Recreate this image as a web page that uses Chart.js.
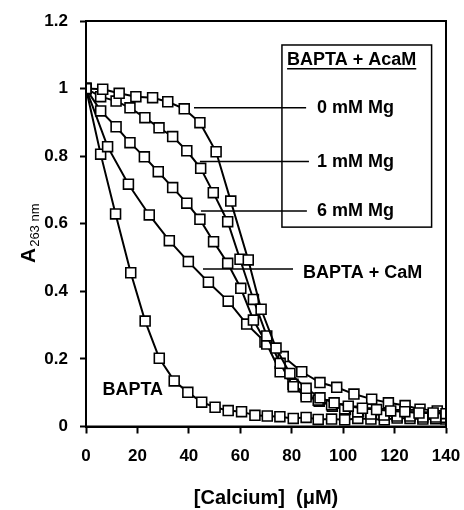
<!DOCTYPE html>
<html>
<head>
<meta charset="utf-8">
<script src="https://cdn.jsdelivr.net/npm/chart.js@4"></script>
<style>
  html, body { margin: 0; padding: 0; background: #fff; }
  #wrap { width: 464px; height: 510px; }
</style>
</head>
<body>
<div id="wrap"><canvas id="myChart" width="464" height="510"></canvas></div>
<script>
// values
let xTicks = [0, 20, 40, 60, 80, 100, 120, 140];
let yTicks = [0, 0.2, 0.4, 0.6, 0.8, 1, 1.2];

let mg0X = [0, 6.5, 12.9, 19.4, 25.9, 31.8, 38.2, 44.3, 50.6, 56.3, 63.1, 68.1, 73.9, 79.3, 85.6, 91, 96.5, 102, 107.5, 113, 118.5, 124, 129.5, 135, 140];
let mg0Y = [1, 0.998, 0.986, 0.976, 0.973, 0.961, 0.94, 0.899, 0.813, 0.667, 0.493, 0.347, 0.232, 0.157, 0.113, 0.085, 0.07, 0.06, 0.054, 0.05, 0.046, 0.044, 0.04, 0.04, 0.038];

let mg1X = [0, 5.7, 11.7, 17.1, 22.9, 28.4, 33.7, 39.2, 44.6, 49.5, 55.1, 59.9, 65.1, 70.3, 75.5, 80.6, 85.6, 90.3, 95.5, 100.6, 105.7, 110.8, 115.9, 121, 126, 131, 136, 140];
let mg1Y = [1, 0.976, 0.963, 0.943, 0.914, 0.884, 0.858, 0.816, 0.764, 0.692, 0.606, 0.495, 0.376, 0.268, 0.187, 0.118, 0.088, 0.078, 0.064, 0.052, 0.043, 0.037, 0.034, 0.031, 0.031, 0.028, 0.028, 0.027];

let mg6X = [0, 5.7, 11.7, 17.1, 22.7, 28.1, 33.7, 39.2, 44.3, 49.6, 55.1, 60.2, 65.1, 70.3, 75.5, 80.5, 85.6, 90.7, 95.8, 100.9, 106, 111, 116, 121, 126, 131, 136, 140];
let mg6Y = [1, 0.934, 0.887, 0.84, 0.798, 0.754, 0.707, 0.661, 0.613, 0.547, 0.483, 0.409, 0.315, 0.244, 0.162, 0.125, 0.095, 0.075, 0.06, 0.05, 0.045, 0.04, 0.038, 0.035, 0.035, 0.035, 0.032, 0.03];

let camX = [0, 8.4, 16.5, 24.6, 32.4, 39.8, 47.6, 55.3, 62.5, 69.6, 76.7, 83.9, 91, 97.5, 104.2, 111.1, 117.6, 124.1, 129.9, 136.6];
let camY = [1, 0.828, 0.717, 0.626, 0.55, 0.488, 0.427, 0.371, 0.303, 0.25, 0.207, 0.162, 0.13, 0.116, 0.096, 0.081, 0.07, 0.062, 0.051, 0.046];

let baptaX = [0, 5.7, 11.5, 17.4, 23, 28.5, 34.3, 39.6, 45, 50.2, 55.3, 60.5, 65.7, 70.5, 75.4, 80.6, 85.6, 90.3, 95.5, 100.6, 105.7, 110.8, 116, 121, 126, 131, 136, 140];
let baptaY = [1, 0.806, 0.629, 0.455, 0.312, 0.202, 0.135, 0.101, 0.072, 0.057, 0.047, 0.044, 0.033, 0.031, 0.029, 0.024, 0.027, 0.021, 0.022, 0.02, 0.024, 0.022, 0.02, 0.025, 0.024, 0.022, 0.023, 0.022];

let seriesNames = ["0 mM Mg", "1 mM Mg", "6 mM Mg", "BAPTA + CaM", "BAPTA"];
let seriesX = [mg0X, mg1X, mg6X, camX, baptaX];
let seriesY = [mg0Y, mg1Y, mg6Y, camY, baptaY];

const FONT = "Arial, 'Liberation Sans', sans-serif";

function pts(xs, ys) {
  return xs.map((x, i) => ({ x: x, y: ys[i] }));
}

let datasets = seriesNames.map((name, i) => ({
  label: name,
  data: pts(seriesX[i], seriesY[i]),
  showLine: true,
  borderColor: "#000",
  borderWidth: 2,
  pointStyle: "rect",
  pointRadius: 7,
  pointBorderWidth: 1.6,
  pointBackgroundColor: "#fff",
  pointBorderColor: "#000",
  tension: 0,
}));

// frame, leader lines, legend box and labels
let annotate = {
  id: "annotate",
  afterDatasetsDraw(chart) {
    let c = chart.ctx;
    let a = chart.chartArea;
    let sx = chart.scales.x, sy = chart.scales.y;
    let X = (v) => sx.getPixelForValue(v);
    let Y = (v) => sy.getPixelForValue(v);
    c.save();
    c.strokeStyle = "#000";
    c.lineWidth = 2;
    c.strokeRect(a.left, a.top, a.right - a.left, a.bottom - a.top);

    // legend box
    c.lineWidth = 1.5;
    c.strokeRect(X(76.2), Y(1.129), X(134.4) - X(76.2), Y(0.59) - Y(1.129));

    // leader lines
    let leaders = [[42, 85.6, 0.943], [44.3, 86.7, 0.784], [44.7, 85.9, 0.638], [45.5, 80.5, 0.466]];
    leaders.forEach((l) => {
      c.beginPath();
      c.moveTo(X(l[0]), Y(l[2]));
      c.lineTo(X(l[1]), Y(l[2]));
      c.stroke();
    });

    c.fillStyle = "#000";
    c.font = "bold 18px " + FONT;
    c.textBaseline = "middle";
    c.textAlign = "left";
    c.fillText("BAPTA + AcaM", X(78.2), Y(1.085));
    let w = c.measureText("BAPTA + AcaM").width;
    c.beginPath();
    c.moveTo(X(78.2), Y(1.059));
    c.lineTo(X(78.2) + w, Y(1.059));
    c.stroke();
    c.fillText("0 mM Mg", X(89.8), Y(0.943));
    c.fillText("1 mM Mg", X(89.8), Y(0.784));
    c.fillText("6 mM Mg", X(89.8), Y(0.638));
    c.fillText("BAPTA + CaM", X(84.4), Y(0.453));
    c.fillText("BAPTA", X(6.4), Y(0.108));

    // y axis title with subscript
    c.translate(28, (a.top + a.bottom) / 2 + 10);
    c.rotate(-Math.PI / 2);
    c.textAlign = "left";
    c.font = "bold 21px " + FONT;
    let aw = c.measureText("A").width;
    let sub = "263 nm";
    c.font = "13px " + FONT;
    let sw = c.measureText(sub).width;
    let x0 = -(aw + sw) / 2;
    c.font = "bold 21px " + FONT;
    c.textBaseline = "alphabetic";
    c.fillText("A", x0, 7);
    c.font = "13px " + FONT;
    c.fillText(sub, x0 + aw + 1, 11);
    c.restore();
  },
};

let ctx = document.getElementById("myChart").getContext("2d");
let myChart = new Chart(ctx, {
  type: "scatter",
  data: { datasets: datasets },
  options: {
    responsive: false,
    animation: false,
    layout: { padding: { top: 21, right: 18, left: 10, bottom: 0 } },
    plugins: { legend: { display: false }, tooltip: { enabled: false } },
    scales: {
      x: {
        type: "linear",
        min: 0,
        max: 140,
        afterBuildTicks: (s) => { s.ticks = xTicks.map((v) => ({ value: v })); },
        afterFit: (s) => {
          s.height = 83.5;
          s.paddingLeft = 0;
          s.paddingRight = 0;
        },
        border: { color: "#000", width: 2 },
        grid: { drawOnChartArea: false, drawTicks: true, tickLength: 7, tickWidth: 2, tickColor: "#000" },
        ticks: { color: "#000", padding: 13, maxRotation: 0, font: { family: FONT, size: 17, weight: "bold" } },
        title: { display: true, text: "[Calcium]  (\u03bcM)", color: "#000", padding: { top: 12, bottom: 0 }, font: { family: FONT, size: 20, weight: "bold" } },
      },
      y: {
        type: "linear",
        min: 0,
        max: 1.2,
        afterBuildTicks: (s) => { s.ticks = yTicks.map((v) => ({ value: v })); },
        afterFit: (s) => {
          s.width = 76;
          s.paddingTop = 0;
          s.paddingBottom = 0;
        },
        border: { color: "#000", width: 2 },
        grid: { drawOnChartArea: false, drawTicks: true, tickLength: 6, tickWidth: 2, tickColor: "#000" },
        ticks: {
          color: "#000",
          padding: 12,
          font: { family: FONT, size: 17, weight: "bold" },
          callback: (v) => String(Math.round(v * 10) / 10),
        },
      },
    },
  },
  plugins: [annotate],
});
</script>
</body>
</html>
